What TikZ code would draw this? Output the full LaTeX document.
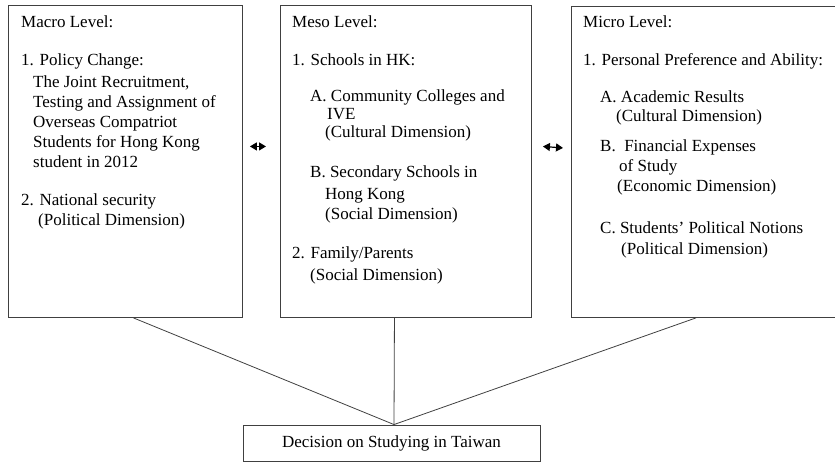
\documentclass[tikz,border=0pt]{standalone}
\usepackage{fontspec}
\setmainfont{Liberation Serif}
\usetikzlibrary{positioning,arrows.meta}
\tikzset{
  levelbox/.style={draw=black!75, line width=0.9pt, minimum height=312pt, anchor=north west, inner sep=0pt},
  items/.style={anchor=north west, align=left, inner sep=0pt, font=\fontsize{17}{20}\selectfont},
  link/.style={draw=black!75, line width=0.8pt},
  twoway/.style={{Triangle[length=7pt,width=8pt]}-{Triangle[length=7pt,width=8pt]}, line width=1.2pt},
}
\begin{document}
\begin{tikzpicture}[x=1pt,y=-1pt]
\useasboundingbox (0,0) rectangle (835,462);
\node[levelbox, minimum width=234pt] (macro) at (8,5) {};
\node[levelbox, minimum width=251pt] (meso) at (280,5) {};
\node[levelbox, minimum width=280pt, minimum height=311pt] (micro) at (571,6) {};
\node[draw=black!75, line width=0.9pt, minimum width=297pt, minimum height=36pt, inner sep=0pt,
  font=\fontsize{17}{20}\selectfont] (decision) at (391.5,443) {Decision on Studying in Taiwan};
\node[items] (macrotext) at (21,16) {Macro Level:\\[18pt]
1. Policy Change:\\[2pt]
\hspace*{12pt}The Joint Recruitment,\\
\hspace*{12pt}Testing and Assignment of\\
\hspace*{12pt}Overseas Compatriot\\
\hspace*{12pt}Students for Hong Kong\\
\hspace*{12pt}student in 2012\\[18pt]
2. National security\\
\hspace*{17pt}(Political Dimension)};
\node[items] (mesotext) at (292,16) {Meso Level:\\[18pt]
1. Schools in HK:\\[16pt]
\hspace*{18pt}A. Community Colleges and\\[-2pt]
\hspace*{35pt}IVE\\[-2pt]
\hspace*{33pt}(Cultural Dimension)\\[20pt]
\hspace*{18pt}B. Secondary Schools in\\[2pt]
\hspace*{33pt}Hong Kong\\
\hspace*{33pt}(Social Dimension)\\[19pt]
2. Family/Parents\\[2pt]
\hspace*{18pt}(Social Dimension)};
\node[items] (microtext) at (583,16) {Micro Level:\\[18pt]
1. Personal Preference and Ability:\\[17pt]
\hspace*{17pt}A. Academic Results\\[-1pt]
\hspace*{33pt}(Cultural Dimension)\\[10pt]
\hspace*{17pt}B.\ \ Financial Expenses\\
\hspace*{36pt}of Study\\
\hspace*{34pt}(Economic Dimension)\\[22pt]
\hspace*{17pt}C. Students' Political Notions\\[1pt]
\hspace*{38pt}(Political Dimension)};
\draw[twoway] ([shift={(7,-15)}]macro.east) -- ([shift={(-14,-15)}]meso.west);
\draw[twoway] ([shift={(11,-15)}]meso.east) -- ([shift={(-8,-14)}]micro.west);
\draw[link] ([xshift=8pt]macro.south) -- ([xshift=2.5pt]decision.north);
\draw[link] ([xshift=-11.5pt]meso.south) -- ([xshift=2.5pt]decision.north);
\draw[link] ([xshift=-15.5pt]micro.south) -- ([xshift=2.5pt]decision.north);
\end{tikzpicture}
\end{document}
